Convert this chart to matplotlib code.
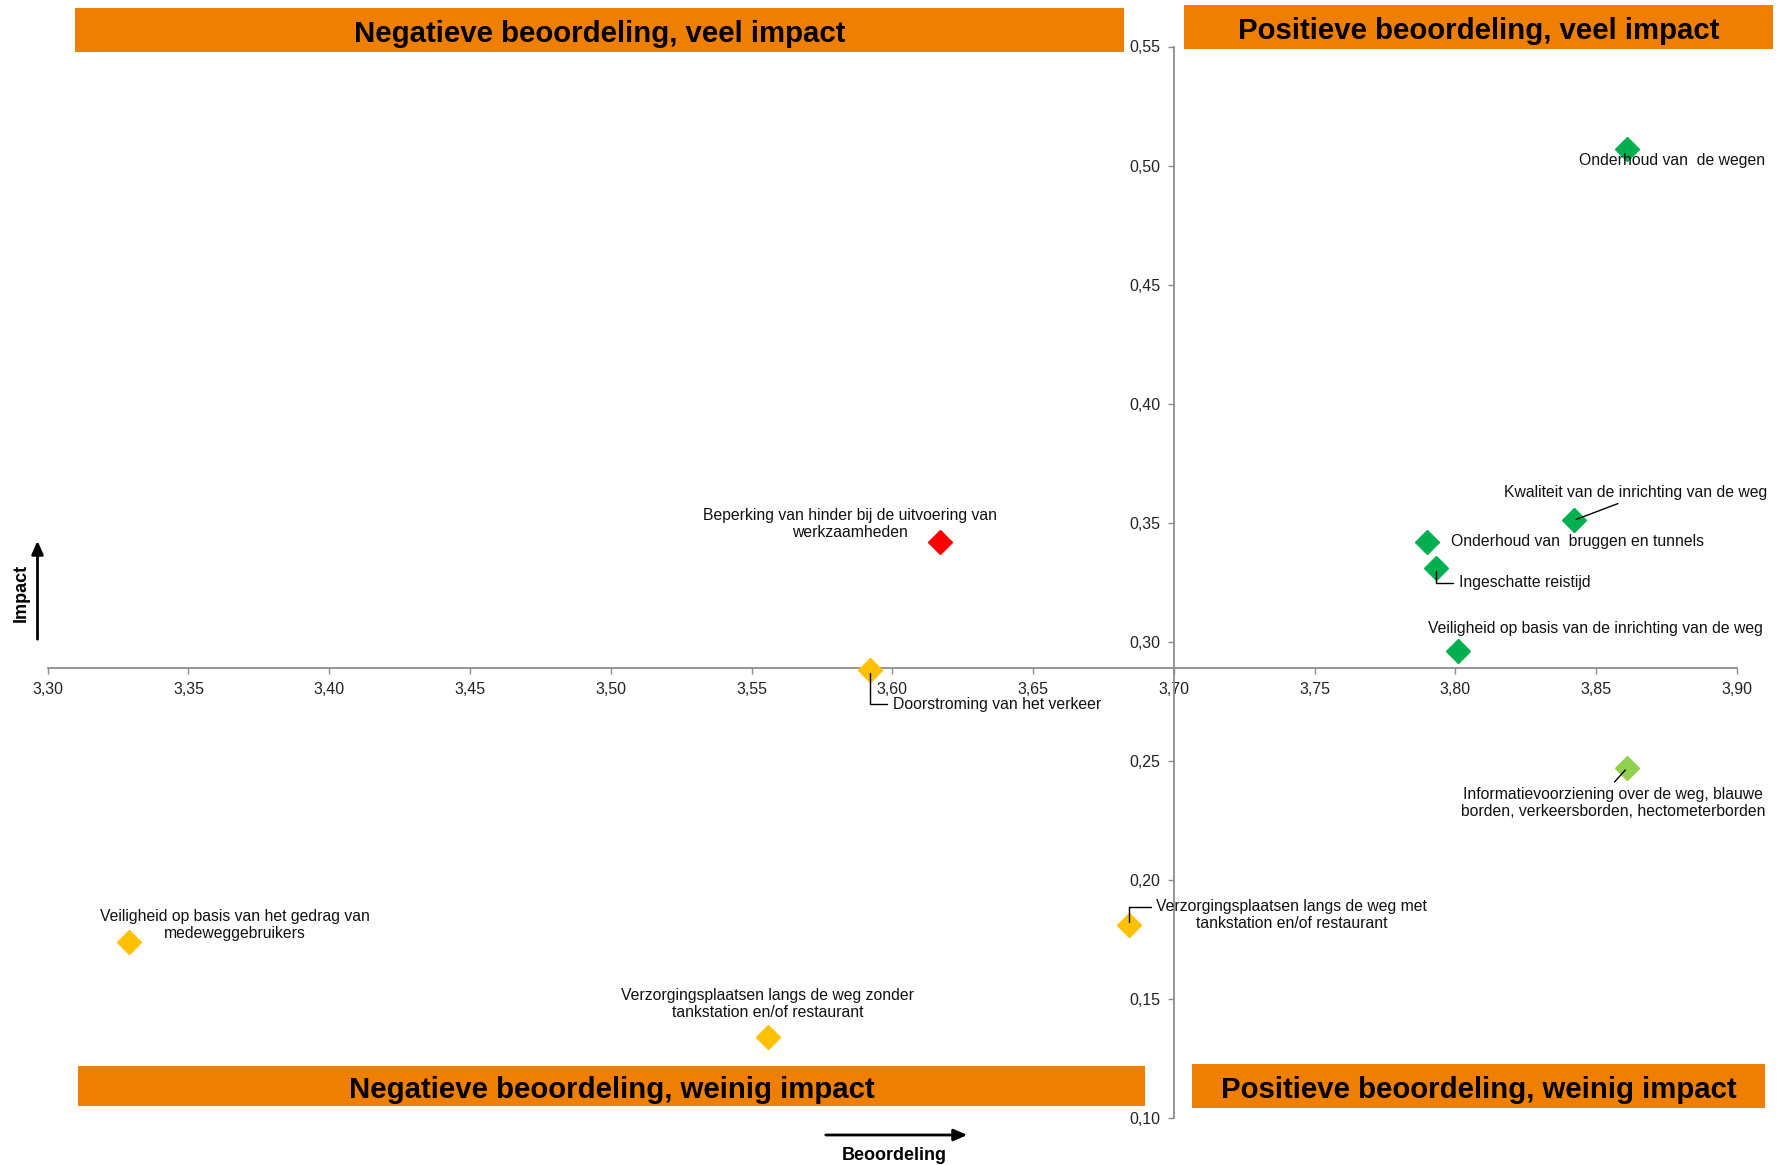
import matplotlib
matplotlib.use("Agg")
import matplotlib.pyplot as plt
from matplotlib.patches import Rectangle
from matplotlib.ticker import FuncFormatter, MultipleLocator
from matplotlib import font_manager

# ---- data -------------------------------------------------------------
labels = [
    "Onderhoud van  de wegen",
    "Kwaliteit van de inrichting van de weg",
    "Onderhoud van  bruggen en tunnels",
    "Ingeschatte reistijd",
    "Veiligheid op basis van de inrichting van de weg",
    "Informatievoorziening over de weg, blauwe\nborden, verkeersborden, hectometerborden",
    "Beperking van hinder bij de uitvoering van\nwerkzaamheden",
    "Doorstroming van het verkeer",
    "Verzorgingsplaatsen langs de weg met\ntankstation en/of restaurant",
    "Veiligheid op basis van het gedrag van\nmedeweggebruikers",
    "Verzorgingsplaatsen langs de weg zonder\ntankstation en/of restaurant",
]
beoordeling = [3.861, 3.842, 3.790, 3.793, 3.801, 3.861, 3.617, 3.592, 3.684, 3.329, 3.556]
impact = [0.507, 0.351, 0.342, 0.331, 0.296, 0.247, 0.342, 0.288, 0.181, 0.174, 0.134]
groups = ["pos", "pos", "pos", "pos", "pos", "mid", "neg", "warn", "warn", "warn", "warn"]

x_cross = 3.70      # vertical axis crosses here
y_cross = 0.289     # horizontal axis crosses here

quadrant_titles = [
    "Negatieve beoordeling, veel impact",
    "Positieve beoordeling, veel impact",
    "Negatieve beoordeling, weinig impact",
    "Positieve beoordeling, weinig impact",
]

# ---- styling ----------------------------------------------------------
group_colors = {"pos": "#00B050", "mid": "#92D050", "neg": "#FF0000", "warn": "#FFC000"}
ORANGE = "#EF7F00"

available = {f.name for f in font_manager.fontManager.ttflist}
narrow = "Liberation Sans Narrow" if "Liberation Sans Narrow" in available else "Liberation Sans"
plt.rcParams["font.family"] = ["Liberation Sans", "DejaVu Sans"]

# label placement: offset in pixels from the marker, alignment, leader line
label_style = [
    dict(off=(45, -12), ha="center", leader=None),
    dict(off=(62, 28), ha="center", leader=("straight", (0.47, 0.0))),
    dict(off=(24, 0), ha="left", leader=None),
    dict(off=(23, -15), ha="left", leader=("elbow", (0.0, 0.5))),
    dict(off=(137, 23), ha="center", leader=None),
    dict(off=(-14, -35), ha="center", leader=("straight", (0.49, 1.0))),
    dict(off=(-90, 18), ha="center", leader=None),
    dict(off=(23, -34), ha="left", leader=("elbow", (0.0, 0.5))),
    dict(off=(163, 10), ha="center", leader=("elbow", (0.0, 0.75))),
    dict(off=(106, 17), ha="center", leader=None),
    dict(off=(-1, 33), ha="center", leader=None),
]

W, H = 1780, 1165
fig = plt.figure(figsize=(W / 100, H / 100), dpi=100)
ax = fig.add_axes([47.7 / W, 1 - 1118 / H, (1737 - 47.7) / W, (1118 - 46.5) / H])

ax.set_xlim(3.30, 3.90)
ax.set_ylim(0.10, 0.55)
ax.xaxis.set_major_locator(MultipleLocator(0.05))
ax.yaxis.set_major_locator(MultipleLocator(0.05))
fmt = FuncFormatter(lambda v, p: f"{v:.2f}".replace(".", ","))
ax.xaxis.set_major_formatter(fmt)
ax.yaxis.set_major_formatter(fmt)

for s in ("top", "right"):
    ax.spines[s].set_visible(False)
ax.spines["left"].set_position(("data", x_cross))
ax.spines["bottom"].set_position(("data", y_cross))
for s in ("left", "bottom"):
    ax.spines[s].set_color("#8C8C8C")
    ax.spines[s].set_linewidth(1.3)
ax.tick_params(axis="both", direction="out", length=4, width=1.0, color="#8C8C8C",
               labelsize=11.5, labelcolor="#222222", pad=6)
for t in ax.get_xticklabels() + ax.get_yticklabels():
    t.set_fontfamily(narrow)

# markers
for x, y, g in zip(beoordeling, impact, groups):
    ax.plot(x, y, marker="D", markersize=12, color=group_colors[g],
            markeredgecolor=group_colors[g], linestyle="none", zorder=3, clip_on=False)

# point labels
for lab, x, y, st in zip(labels, beoordeling, impact, label_style):
    arrow = None
    if st["leader"] is not None:
        kind, rel = st["leader"]
        arrow = dict(arrowstyle="-", color="black", lw=1.0, relpos=rel, shrinkA=2, shrinkB=2)
        if kind == "elbow":
            arrow["connectionstyle"] = "angle,angleA=0,angleB=90,rad=0"
    ax.annotate(lab, xy=(x, y), xytext=st["off"], textcoords="offset pixels",
                ha=st["ha"], va="center", multialignment="center",
                fontsize=11.3, color="#111111", arrowprops=arrow, zorder=4,
                annotation_clip=False)

# quadrant banners (figure pixels, top-left origin)
banners = [(75, 8, 1124, 52), (1184, 5, 1773, 49), (78, 1066, 1145, 1106), (1192, 1064, 1765, 1108)]
for (x0, y0, x1, y1), title in zip(banners, quadrant_titles):
    fig.patches.append(Rectangle((x0 / W, 1 - y1 / H), (x1 - x0) / W, (y1 - y0) / H,
                                 transform=fig.transFigure, facecolor=ORANGE,
                                 edgecolor="none", zorder=5))
    fig.text((x0 + x1) / 2 / W, 1 - ((y0 + y1) / 2 + 4) / H, title, ha="center", va="center",
             fontsize=21.2, fontweight="bold", fontfamily=narrow, color="black", zorder=6)

# direction arrows for the two axes
ax.annotate("", xy=(37.5 / W, 1 - 538 / H), xytext=(37.5 / W, 1 - 642 / H),
            xycoords="figure fraction", textcoords="figure fraction",
            arrowprops=dict(arrowstyle="-|>,head_length=0.8,head_width=0.35", color="black", lw=2))
fig.text(21 / W, 1 - 593 / H, "Impact", rotation=90, ha="center", va="center",
         fontsize=13, fontweight="bold")
ax.annotate("", xy=(970 / W, 1 - 1135 / H), xytext=(823 / W, 1 - 1135 / H),
            xycoords="figure fraction", textcoords="figure fraction",
            arrowprops=dict(arrowstyle="-|>,head_length=0.8,head_width=0.35", color="black", lw=2))
fig.text(894 / W, 1 - 1155 / H, "Beoordeling", ha="center", va="center",
         fontsize=13, fontweight="bold")

fig.savefig("out.png", dpi=100)
